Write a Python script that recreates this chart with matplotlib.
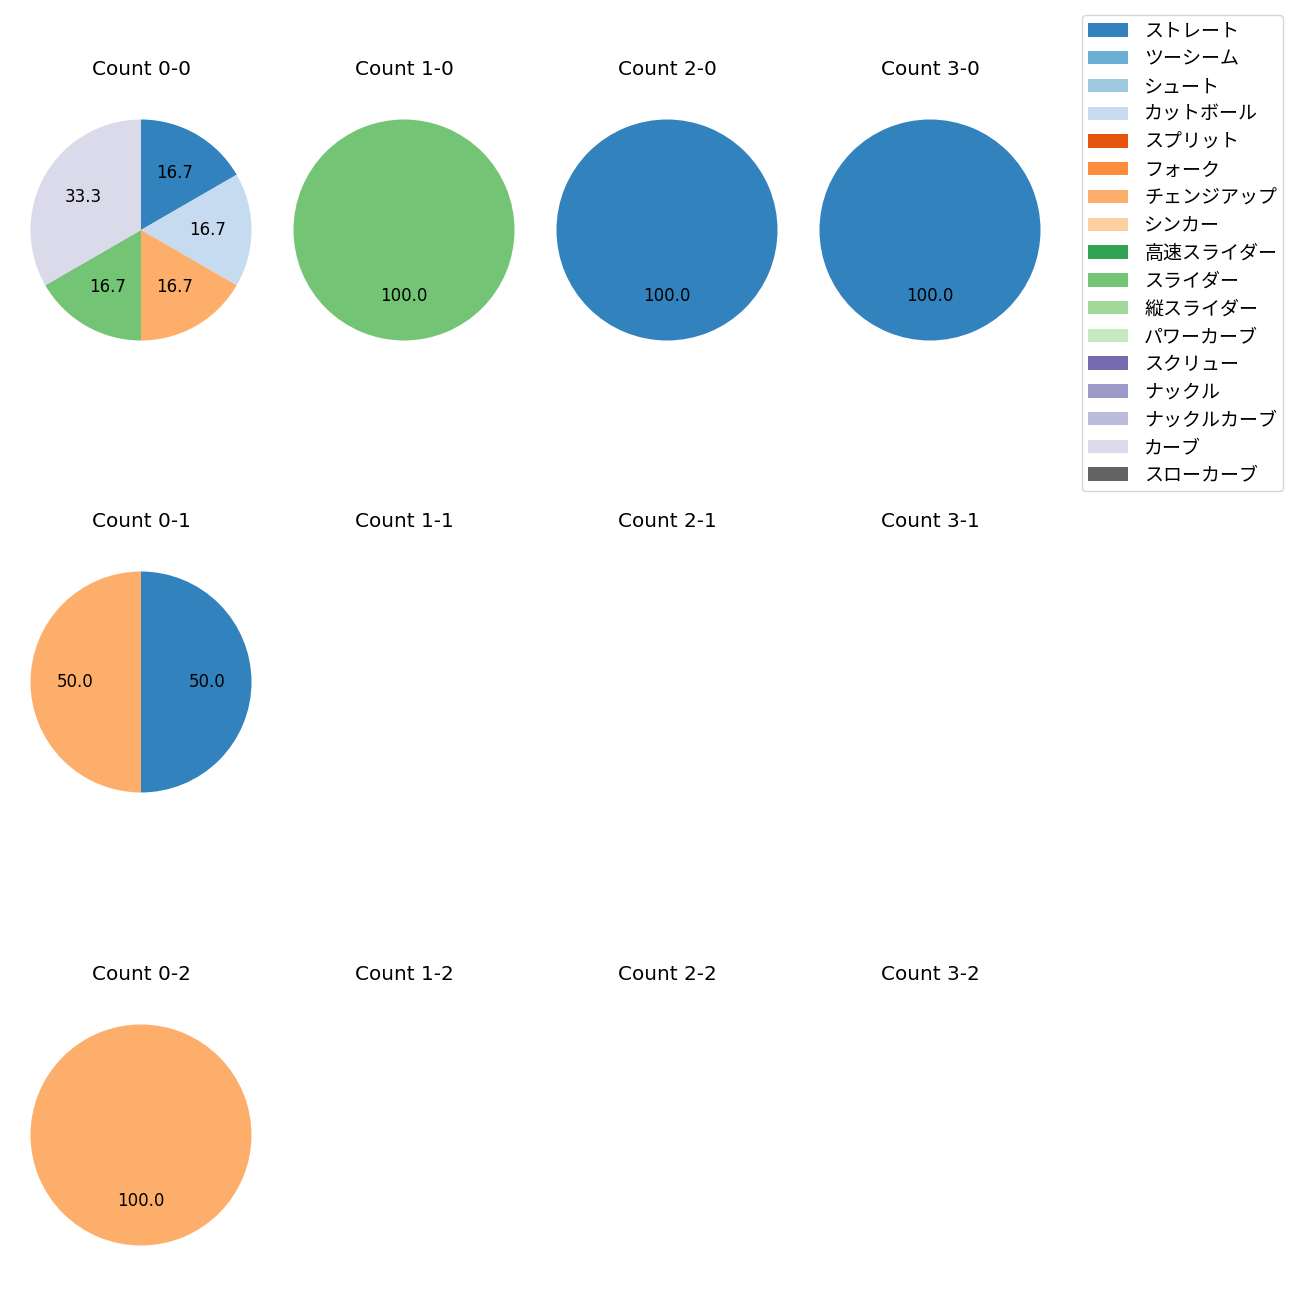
import numpy as np
import matplotlib
matplotlib.use("Agg")
from matplotlib import pyplot as plt
from matplotlib.patches import Patch

plt.rcParams['font.family'] = ['DejaVu Sans', 'Noto Sans CJK JP']
plt.rcParams['font.size'] = 12

pitch_types = ["ストレート", "ツーシーム", "シュート", "カットボール", "スプリット", "フォーク",
               "チェンジアップ", "シンカー", "高速スライダー", "スライダー", "縦スライダー",
               "パワーカーブ", "スクリュー", "ナックル", "ナックルカーブ", "カーブ", "スローカーブ"]
colors = [plt.cm.tab20c(i) for i in range(len(pitch_types))]

# counts per ball-strike situation (balls, strikes): {pitch type: count}
counts = {
    (0, 0): {"ストレート": 1, "カットボール": 1, "チェンジアップ": 1, "スライダー": 1, "カーブ": 2},
    (1, 0): {"スライダー": 1},
    (2, 0): {"ストレート": 1},
    (3, 0): {"ストレート": 1},
    (0, 1): {"ストレート": 1, "チェンジアップ": 1},
    (1, 1): {},
    (2, 1): {},
    (3, 1): {},
    (0, 2): {"チェンジアップ": 1},
    (1, 2): {},
    (2, 2): {},
    (3, 2): {},
}

W = H = 1300
col_x = [141, 404, 667, 930]
row_y = [230, 682, 1135]
radius_px = 110.5
size_px = 290

fig = plt.figure(figsize=(13, 13), dpi=100)

for s in range(3):
    for b in range(4):
        cx, cy = col_x[b], row_y[s]
        ax = fig.add_axes([(cx - size_px / 2) / W, 1 - (cy + size_px / 2) / H,
                           size_px / W, size_px / H])
        data = counts[(b, s)]
        vals = [data[p] for p in pitch_types if p in data]
        cols = [colors[i] for i, p in enumerate(pitch_types) if p in data]
        r = radius_px / (size_px / 2) * 1.25
        if vals:
            ax.pie(vals, colors=cols, autopct='%.1f', startangle=90, counterclock=False,
                   radius=r, textprops={'fontsize': 12})
        ax.set_xlim(-1.25, 1.25)
        ax.set_ylim(-1.25, 1.25)
        ax.set_aspect('equal')
        ax.axis('off')
        ax.set_title(f"Count {b}-{s}", fontsize=14.4, pad=7)

handles = [Patch(facecolor=c, label=p) for p, c in zip(pitch_types, colors)]
fig.legend(handles=handles, loc='upper right', bbox_to_anchor=(1283 / W, 1 - 15 / H),
           borderaxespad=0, prop={'family': ['Noto Sans CJK JP', 'DejaVu Sans'], 'size': 13.7},
           labelspacing=0.355, handlelength=2.1, handletextpad=0.85, borderpad=0.3)

fig.savefig("out.png", dpi=100)
